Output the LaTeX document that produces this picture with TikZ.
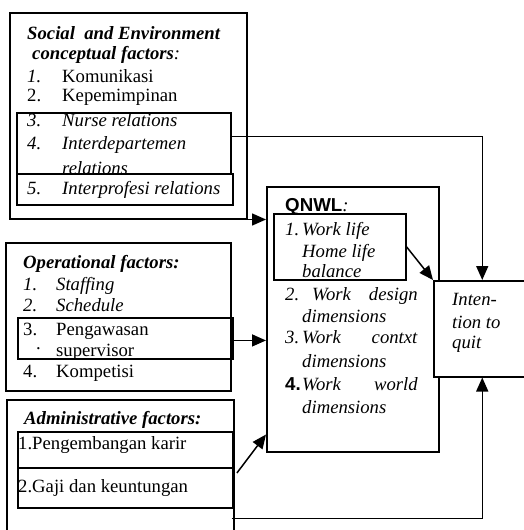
\documentclass[tikz,border=0pt]{standalone}
\usepackage{fontspec}
\setmainfont{Liberation Serif}
\newfontfamily\arialf{Liberation Sans}
\usetikzlibrary{arrows.meta}
\begin{document}
\begin{tikzpicture}[x=1pt,y=-1pt,
  box/.style={draw,line width=1.5pt,rectangle,inner sep=0pt,anchor=north west},
  inbox/.style={box,line width=1.9pt},
  txt/.style={anchor=base west,inner sep=0pt,font=\fontsize{18.7}{20}\selectfont},
  txr/.style={txt,anchor=base east},
  con/.style={line width=1.5pt,-{Triangle[length=14pt,width=12pt]}},
]
\useasboundingbox (0,0) rectangle (524,530);
\clip (0,0) rectangle (524,530);

% outer boxes
\node[box,minimum width=237pt,minimum height=206pt] (social) at (9,12) {};
\node[inbox,minimum width=214pt,minimum height=61pt] (nr34) at (16,112) {};
\node[inbox,minimum width=216pt,minimum height=31pt] (ip5) at (16,173) {};

\node[box,minimum width=225pt,minimum height=148pt] (oper) at (5,242) {};
\node[inbox,minimum width=215pt,minimum height=41pt] (peng) at (17,317) {};

\node[box,minimum width=227pt,minimum height=141pt] (admin) at (6,399) {};
\node[inbox,minimum width=215pt,minimum height=36pt] (karir) at (17,431) {};
\node[inbox,minimum width=215pt,minimum height=40pt] (gaji) at (17,467) {};

\node[box,minimum width=172pt,minimum height=265pt] (qnwl) at (266,186) {};
\node[box,minimum width=132pt,minimum height=66pt] (wlhb) at (273,213) {};

% social texts
\node[txt] (s0) at (27,39) {\textbf{\textit{Social\ \ and Environment}}};
\node[txt] (s0b) at (32,59) {\textbf{\textit{conceptual factors}}\textit{:}};
\node[txt] (s1n) at (27,82) {\textit{1.}};
\node[txt] (s1) at (62,82) {Komunikasi};
\node[txt] (s2n) at (27,101) {2.};
\node[txt] (s2) at (62,101) {Kepemimpinan};
\node[txt] (s3n) at (27,126) {\textit{3.}};
\node[txt] (s3) at (62,126) {\textit{Nurse relations}};
\node[txt] (s4n) at (27,149) {\textit{4.}};
\node[txt] (s4) at (62,149) {\textit{Interdepartemen}};
\node[txt] (s4b) at (62,174) {\textit{relations}};
\node[txt] (s5n) at (27,194) {\textit{5.}};
\node[txt] (s5) at (62,194) {\textit{Interprofesi relations}};

% operational texts
\node[txt] (o0) at (23,268) {\textbf{\textit{Operational factors:}}};
\node[txt] (o1n) at (23,290) {\textit{1.}};
\node[txt] (o1) at (56,290) {\textit{Staffing}};
\node[txt] (o2n) at (23,311) {\textit{2.}};
\node[txt] (o2) at (56,311) {\textit{Schedule}};
\node[txt] (o3n) at (23,335) {3.};
\node[txt] (o3) at (56,335) {Pengawasan};
\node[txt] (o3d) at (36,349) {.};
\node[txt] (o3b) at (56,356) {supervisor};
\node[txt] (o4n) at (23,377) {4.};
\node[txt] (o4) at (56,377) {Kompetisi};

% administrative texts
\node[txt] (a0) at (24,424) {\textbf{\textit{Administrative factors:}}};
\node[txt] (a1) at (18,449) {1.Pengembangan karir};
\node[txt] (a2) at (18,492) {2.Gaji dan keuntungan};

% QNWL texts
\node[txt] (q0) at (285,211) {{\arialf\bfseries QNWL}\textit{:}};
\node[txt] (q1n) at (285,235) {\textit{1.}};
\node[txt] (q1) at (302,235) {\textit{Work life}};
\node[txt] (q1b) at (302,257) {\textit{Home life}};
\node[txt] (q1c) at (302,277) {\textit{balance}};
\node[txt] (q2n) at (285,300) {\textit{2.}};
\node[txt] (q2) at (312,300) {\textit{Work}};
\node[txr] (q2r) at (418,300) {\textit{design}};
\node[txt] (q2b) at (302,322) {\textit{dimensions}};
\node[txt] (q3n) at (285,343) {\textit{3.}};
\node[txt] (q3) at (302,343) {\textit{Work}};
\node[txr] (q3r) at (418,343) {\textit{contxt}};
\node[txt] (q3b) at (302,367) {\textit{dimensions}};
\node[txt] (q4n) at (285,390) {{\arialf\bfseries 4.}};
\node[txt] (q4) at (302,390) {\textit{Work}};
\node[txr] (q4r) at (418,390) {\textit{world}};
\node[txt] (q4b) at (302,413) {\textit{dimensions}};

% intention box
\node[box,fill=white,minimum width=97pt,minimum height=96pt] (intent) at (433,280) {};
\node[txt] (i1) at (452,305) {\textit{Inten-}};
\node[txt] (i2) at (452,328) {\textit{tion to}};
\node[txt] (i3) at (452,348) {\textit{quit}};

% connectors
\draw[con] ([yshift=7pt]nr34.east) -| (intent.north);
\draw[con] (social.south east) -- (social.south east -| qnwl.west);
\draw[con] ([yshift=-2pt]peng.east) -- ([yshift=-2pt]peng.east -| qnwl.west);
\draw[con] ([xshift=3pt,yshift=-6pt]gaji.north east) -- ([yshift=18pt]qnwl.south west);
\draw[con] (wlhb.east) -- (intent.north west);
\draw[con] ([xshift=-3pt,yshift=23pt]admin.south east) -| (intent.south);
\end{tikzpicture}
\end{document}
